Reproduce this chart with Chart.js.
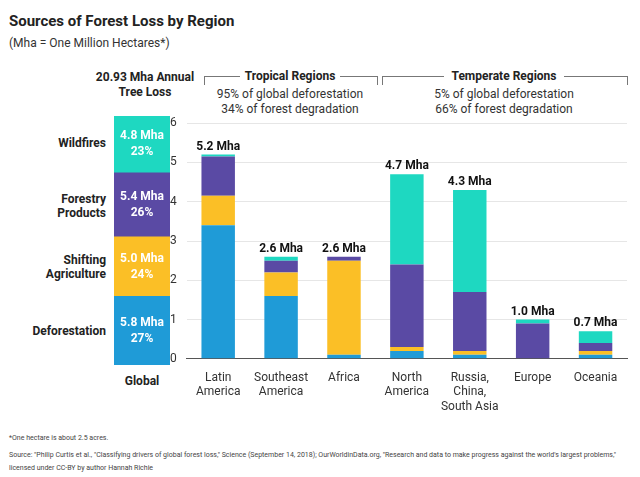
<!DOCTYPE html>
<html>
<head>
<meta charset="utf-8">
<script src="https://cdn.jsdelivr.net/npm/chart.js@4"></script>
<style>
body { margin:0; background:#fff; font-family: Roboto, "Liberation Sans", sans-serif; color:#222; }
#wrap { position:relative; width:640px; height:477px; overflow:hidden; }
.abs { position:absolute; }
.title { left:9px; top:12px; font-size:15px; font-weight:bold; }
.sub { left:9px; top:36px; font-size:12px; color:#333; }
.hd { font-size:12px; font-weight:bold; text-align:center; }
.tx { font-size:12px; text-align:center; color:#333; line-height:15px; }
.lab { font-size:12px; font-weight:bold; text-align:right; width:100px; left:6px; line-height:14px; }
.brk { border:1px solid #777; border-bottom:none; height:8px; }
.foot { left:9px; font-size:7px; color:#444; line-height:13px; white-space:nowrap; }
</style>
</head>
<body>
<div id="wrap">
  <div class="abs title">Sources of Forest Loss by Region</div>
  <div class="abs sub">(Mha = One Million Hectares*)</div>

  <div class="abs hd" style="left:70px; top:70px; width:150px; line-height:15px;">20.93 Mha Annual<br>Tree Loss</div>

  <div class="abs brk" style="left:204px; top:76px; width:172px;"></div>
  <div class="abs hd" style="left:240px; top:69px; width:100px; background:#fff;">Tropical Regions</div>
  <div class="abs tx" style="left:190px; top:87px; width:200px;">95% of global deforestation<br>34% of forest degradation</div>

  <div class="abs brk" style="left:382px; top:76px; width:244px;"></div>
  <div class="abs hd" style="left:444px; top:69px; width:120px; background:#fff;">Temperate Regions</div>
  <div class="abs tx" style="left:404px; top:87px; width:200px;">5% of global deforestation<br>66% of forest degradation</div>

  <div class="abs lab" style="top:136px;">Wildfires</div>
  <div class="abs lab" style="top:192px;">Forestry<br>Products</div>
  <div class="abs lab" style="top:253px;">Shifting<br>Agriculture</div>
  <div class="abs lab" style="top:324px;">Deforestation</div>
  <div class="abs hd" style="left:112px; top:374px; width:60px;">Global</div>

  <div class="abs" style="left:112px; top:106px; width:60px; height:262px;"><canvas id="globalChart"></canvas></div>
  <div class="abs" style="left:160px; top:106px; width:475px; height:312px;"><canvas id="regionChart"></canvas></div>

  <div class="abs foot" style="top:432px;">*One hectare is about 2.5 acres.</div>
  <div class="abs foot" style="top:449px;">Source: "Philip Curtis et al., "Classifying drivers of global forest loss," Science (September 14, 2018); OurWorldinData.org, "Research and data to make progress against the world's largest problems,"<br>licensed under CC-BY by author Hannah Richie</div>
</div>

<script>
const regions = [["Latin", "America"], ["Southeast", "America"], ["Africa"], ["North", "America"], ["Russia,", "China,", "South Asia"], ["Europe"], ["Oceania"]];
const deforestation = [3.4, 1.6, 0.1, 0.2, 0.1, 0.0, 0.1];
const shifting = [0.75, 0.6, 2.4, 0.1, 0.1, 0.0, 0.1];
const forestry = [1.0, 0.3, 0.1, 2.1, 1.5, 0.9, 0.2];
const wildfires = [0.05, 0.1, 0.0, 2.3, 2.6, 0.1, 0.3];
const totalLabels = ["5.2 Mha", "2.6 Mha", "2.6 Mha", "4.7 Mha", "4.3 Mha", "1.0 Mha", "0.7 Mha"];
const yTicks = [0, 1, 2, 3, 4, 5, 6];

const globalValues = [5.8, 5.0, 5.4, 4.8];
const globalLabels = ["5.8 Mha", "5.0 Mha", "5.4 Mha", "4.8 Mha"];
const globalShares = ["27%", "24%", "26%", "23%"];

const colors = ["#1f9bd7", "#fbbf26", "#5a4aa4", "#1ed8c1"];
const names = ["Deforestation", "Shifting Agriculture", "Forestry Products", "Wildfires"];

const font = "Roboto, 'Liberation Sans', sans-serif";

const totalsPlugin = {
    id: "totals",
    afterDatasetsDraw(chart) {
        const ctx = chart.ctx;
        const last = chart.getDatasetMeta(3);
        ctx.save();
        ctx.font = "bold 12px " + font;
        ctx.fillStyle = "#111";
        ctx.textAlign = "center";
        ctx.textBaseline = "bottom";
        last.data.forEach((bar, i) => {
            ctx.fillText(totalLabels[i], bar.x, bar.y - 2);
        });
        ctx.restore();
    }
};

new Chart(document.getElementById("regionChart"), {
    type: "bar",
    data: {
        labels: regions,
        datasets: [deforestation, shifting, forestry, wildfires].map((d, i) => ({
            label: names[i],
            data: d,
            backgroundColor: colors[i],
            barPercentage: 0.56,
            categoryPercentage: 0.95
        }))
    },
    options: {
        responsive: true,
        maintainAspectRatio: false,
        animation: false,
        layout: { padding: { top: 10, right: 8 } },
        plugins: { legend: { display: false }, tooltip: { enabled: false } },
        scales: {
            x: {
                stacked: true,
                grid: { display: false },
                border: { color: "#555" },
                ticks: { color: "#333", maxRotation: 0, minRotation: 0, autoSkip: false, padding: 4, font: { family: font, size: 12 } }
            },
            y: {
                stacked: true,
                min: 0,
                max: 6,
                afterBuildTicks(axis) { axis.ticks = yTicks.map(v => ({ value: v })); },
                grid: { color: "#e6e6e6", drawTicks: false },
                border: { display: false },
                ticks: { color: "#333", padding: 10, font: { family: font, size: 12 } }
            }
        }
    },
    plugins: [totalsPlugin]
});

const insidePlugin = {
    id: "inside",
    afterDatasetsDraw(chart) {
        const ctx = chart.ctx;
        ctx.save();
        ctx.font = "bold 12px " + font;
        ctx.fillStyle = "#fff";
        ctx.textAlign = "center";
        ctx.textBaseline = "middle";
        chart.data.datasets.forEach((ds, i) => {
            const bar = chart.getDatasetMeta(i).data[0];
            const mid = (bar.y + bar.base) / 2;
            ctx.fillText(globalLabels[i], bar.x, mid - 8);
            ctx.fillText(globalShares[i], bar.x, mid + 8);
        });
        ctx.restore();
    }
};

new Chart(document.getElementById("globalChart"), {
    type: "bar",
    data: {
        labels: ["Global"],
        datasets: globalValues.map((v, i) => ({
            label: names[i],
            data: [v],
            backgroundColor: colors[i],
            barPercentage: 1,
            categoryPercentage: 1
        }))
    },
    options: {
        responsive: true,
        maintainAspectRatio: false,
        animation: false,
        layout: { padding: { left: 2, right: 2, top: 10, bottom: 3 } },
        plugins: { legend: { display: false }, tooltip: { enabled: false } },
        scales: {
            x: { stacked: true, display: false },
            y: { stacked: true, display: false, min: 0, max: 21 }
        }
    },
    plugins: [insidePlugin]
});
</script>
</body>
</html>
